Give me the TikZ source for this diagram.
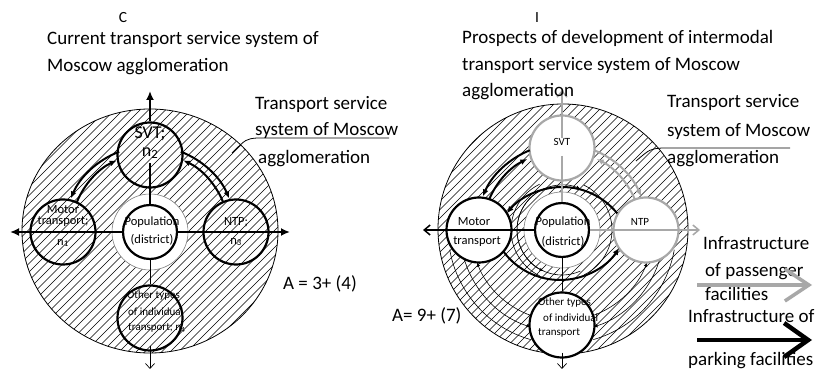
\documentclass[tikz,border=0pt]{standalone}
\usepackage{fontspec}
\setmainfont{Carlito}
\usetikzlibrary{arrows.meta,calc}
\definecolor{lg}{RGB}{168,168,168}
\begin{document}
\begin{tikzpicture}[x=1pt,y=-1pt,
  hatch/.style={line width=0.55pt},
  bigc/.style={draw, line width=0.8pt},
  ringc/.style={circle, draw=gray, line width=0.6pt, fill=white, minimum size=76pt, inner sep=0pt},
  pcirc/.style={circle, draw, line width=2.2pt, fill=white, minimum size=54pt, inner sep=0pt},
  scirc/.style={circle, draw, line width=2.2pt, minimum size=65pt, inner sep=0pt},
  gcirc/.style={scirc, draw=lg, fill=white},
  wcirc/.style={scirc, fill=white},
  axis/.style={line width=2pt},
  thinax/.style={line width=0.7pt},
  dbl/.style={line width=2pt, -{Latex[length=7pt,width=6pt]}},
  gdbl/.style={line width=2pt, draw=lg, -{Latex[length=7pt,width=6pt,color=lg]}},
  thinarc/.style={line width=0.6pt, -{Latex[length=4pt,width=3.5pt]}},
  thinl/.style={line width=0.6pt},
  big/.style={font=\fontsize{19}{23}\selectfont, anchor=base west, inner sep=0pt},
  head/.style={font=\fontsize{15.5}{18}\selectfont, inner sep=0pt},
  lbl/.style={font=\fontsize{12.5}{14}\selectfont, inner sep=0pt},
  slbl/.style={font=\fontsize{11}{13}\selectfont, inner sep=0pt},
  svtbig/.style={font=\fontsize{18}{20}\selectfont, inner sep=0pt},
]
\useasboundingbox (0,0) rectangle (817,371);
\fill[white] (0,0) rectangle (817,371);

% ================= LEFT DIAGRAM =================
\coordinate (CL) at (150,231);
\coordinate (OL) at (150,232);
\begin{scope}
  \clip (CL) ellipse [x radius=128, y radius=122];
  \foreach \k in {-50,...,40} \draw[hatch] ({\k*8.5},420) -- ++(420,-420);
\end{scope}
\draw[bigc] (CL) ellipse [x radius=128, y radius=122];
\node[ringc] (ringL) at (OL) {};

\node[scirc] (svtL) at (150,155) {};
\node[scirc] (motL) at (63,232) {};
\node[scirc] (ntpL) at (236,232) {};
\node[scirc] (othL) at (150,318) {};
\node[pcirc] (popL) at (OL) {};

% arcs (concentric with the population node)
\draw[dbl] ($(OL)+(249:86)$) arc[start angle=249, end angle=203, radius=86];
\draw[dbl] ($(OL)+(202:79)$) arc[start angle=202, end angle=245, radius=79];
\draw[dbl] ($(OL)+(291:86)$) arc[start angle=291, end angle=337, radius=86];
\draw[dbl] ($(OL)+(338:79)$) arc[start angle=338, end angle=295, radius=79];

% axes
\coordinate (LAL) at (10,232);
\coordinate (LAR) at (290,232);
\coordinate (LTop) at (150,91);
\coordinate (LBot) at (150,369);
\draw[axis, {Latex[length=9pt,width=8pt]}-] (LAL) -- (popL.west);
\draw[axis, -{Latex[length=9pt,width=8pt]}] (popL.east) -- (LAR);
\draw[axis, -{Latex[length=9pt,width=8pt]}] (svtL.north) -- (LTop);
\draw[axis] ($(svtL.center)+(0,8)$) -- (popL.north);
\draw[thinax] (popL.south) -- (othL.north);
\draw[thinax, -{Straight Barb[length=5pt,width=9pt]}] ($(othL.south)+(0,-6)$) -- (LBot);

% labels
\node[svtbig] (lsvt) at (150,134) {SVT;};
\node[svtbig] (ln2) at (150,153) {n\textsubscript{2}};
\node[lbl] (lmot1) at (63,210) {Motor};
\node[lbl] (lmot2) at (63,222) {transport;};
\node[lbl] (lmot3) at (63,243) {n\textsubscript{1}};
\node[lbl] (lpop1) at (152,222) {Population};
\node[lbl] (lpop2) at (152,240) {(district)};
\node[lbl] (lntp1) at (236,222) {NTP;};
\node[lbl] (lntp2) at (236,242) {n\textsubscript{3}};
\node[slbl, anchor=west] (loth1) at (127,296) {Other types};
\node[slbl, anchor=west] (loth2) at (128,312) {of individual};
\node[slbl, anchor=west] (loth3) at (128,328) {transport; n\textsubscript{4}};

\node[head] (tC) at (123,18) {C};
\node[big] (tl1) at (47,45) {Current transport service system of};
\node[big] (tl2) at (47,72) {Moscow agglomeration};
\node[big] (tl3) at (255,110) {Transport service};
\node[big] (tl4) at (255,136) {system of Moscow};
\node[big] (tl5) at (258,164) {agglomeration};
\node[big] (tlA) at (283,290) {A = 3+ (4)};
\coordinate (ulL1) at (389,138);
\coordinate (ulL2) at (257,138);
\coordinate (ulL3) at (232,153);
\draw[line width=0.8pt] (ulL1) -- (ulL2) .. controls (246,139) .. (ulL3);

% ================= RIGHT DIAGRAM =================
\coordinate (CR) at (563,229);
\coordinate (OR) at (562,230);
\begin{scope}
  \clip (CR) circle [radius=125];
  \foreach \k in {0,...,110} \draw[hatch] ({\k*8.5},420) -- ++(420,-420);
\end{scope}
\draw[bigc] (CR) circle [radius=125];

% thin arcs (drawn under the white nodes)
\draw[thinarc] ($(OR)+(246:45)$) arc[start angle=246, end angle=114, radius=45];
\draw[thinl]   ($(OR)+(244:51)$) arc[start angle=244, end angle=116, radius=51];
\draw[thinarc] ($(OR)+(66:45)$) arc[start angle=66, end angle=294, radius=45];
\draw[thinl]   ($(OR)+(64:50)$) arc[start angle=64, end angle=-64, radius=50];
\draw[thinarc] ($(OR)+(110:91)$) arc[start angle=110, end angle=159, radius=91];
\draw[thinarc] ($(OR)+(165:102)$) arc[start angle=165, end angle=108, radius=102];
\draw[thinl]   ($(OR)+(106:114)$) arc[start angle=106, end angle=170, radius=114];
\draw[thinarc] ($(OR)+(70:91)$) arc[start angle=70, end angle=21, radius=91];
\draw[thinarc] ($(OR)+(17:102)$) arc[start angle=17, end angle=72, radius=102];
\draw[thinl]   ($(OR)+(74:114)$) arc[start angle=74, end angle=10, radius=114];

\node[ringc] (ringR) at (OR) {};
\node[gcirc] (svtR) at (562,148) {};
\node[wcirc] (motR) at (479,230) {};
\node[gcirc] (ntpR) at (646,230) {};
\node[wcirc] (othR) at (562,325) {};
\node[pcirc] (popR) at (OR) {};

% thick arcs
\draw[dbl] ($(OR)+(248:86)$) arc[start angle=248, end angle=203, radius=86];
\draw[dbl] ($(OR)+(203:79)$) arc[start angle=203, end angle=244, radius=79];
\draw[gdbl] ($(OR)+(292:86)$) arc[start angle=292, end angle=337, radius=86];
\draw[gdbl] ($(OR)+(337:79)$) arc[start angle=337, end angle=296, radius=79];
\coordinate (OU) at (562,258);
\coordinate (OD) at (560,209.5);
\draw[dbl] ($(OU)+(321:71)$) arc[start angle=321, end angle=219, radius=71];
\draw[dbl] ($(OD)+(144:70.5)$) arc[start angle=144, end angle=33, radius=70.5];

% axes
\coordinate (RAL) at (423,230);
\coordinate (RAR) at (700,230);
\coordinate (RTop) at (562,90);
\coordinate (RBot) at (562,369);
\draw[line width=1.5pt, {Straight Barb[length=6pt,width=10pt]}-] (RAL) -- (popR.west);
\draw[line width=1.5pt, draw=lg, -{Straight Barb[length=6pt,width=10pt]}] (popR.east) -- (RAR);
\draw[line width=1.5pt, draw=lg, -{Straight Barb[length=6pt,width=10pt]}] ($(svtR.center)+(0,-10)$) -- (RTop);
\draw[line width=1.5pt, draw=lg] ($(svtR.center)+(0,8)$) -- (popR.north);
\draw[thinax] (popR.south) -- (othR.north);
\draw[thinax, -{Straight Barb[length=5pt,width=9pt]}] ($(othR.south)+(0,-6)$) -- (RBot);

% labels
\node[slbl] (rsvt) at (562,142) {SVT};
\node[lbl] (rmot1) at (474,222) {Motor};
\node[lbl] (rmot2) at (477,242) {transport};
\node[lbl] (rpop1) at (563,222) {Population};
\node[lbl] (rpop2) at (563,242) {(district)};
\node[slbl] (rntp) at (640,222) {NTP};
\node[slbl, anchor=west] (roth1) at (538,303) {Other types};
\node[slbl, anchor=west] (roth2) at (543,318) {of individual};
\node[slbl, anchor=west] (roth3) at (538,333) {transport};

\node[head] (tI) at (537,18) {I};
\node[big] (tr1) at (462,44) {Prospects of development of intermodal};
\node[big] (tr2) at (462,71) {transport service system of Moscow};
\node[big] (tr3) at (462,97) {agglomeration};
\node[big] (tr4) at (667,108) {Transport service};
\node[big] (tr5) at (667,137) {system of Moscow};
\node[big] (tr6) at (667,164) {agglomeration};
\node[big] (trA) at (392,322) {A= 9+ (7)};
\coordinate (ulR1) at (790,148);
\coordinate (ulR2) at (662,148);
\coordinate (ulR3) at (636,161);
\draw[line width=0.8pt] (ulR1) -- (ulR2) .. controls (650,149) .. (ulR3);

% legend
\node[big] (lg1) at (703,250) {Infrastructure};
\node[big] (lg2) at (705,277) {of passenger};
\node[big] (lg3) at (705,301) {facilities};
\node[big] (lg4) at (688,323) {Infrastructure of};
\node[big] (lg5) at (688,366) {parking facilities};
\coordinate (ga) at (697,285);
\coordinate (gb) at (812,285);
\coordinate (ba) at (697,340);
\coordinate (bb) at (812,340);
\draw[line width=3.5pt, draw=lg, -{Straight Barb[length=24pt,width=32pt]}] (ga) -- (gb);
\draw[line width=4.5pt, -{Straight Barb[length=24pt,width=34pt]}] (ba) -- (bb);
\end{tikzpicture}
\end{document}
